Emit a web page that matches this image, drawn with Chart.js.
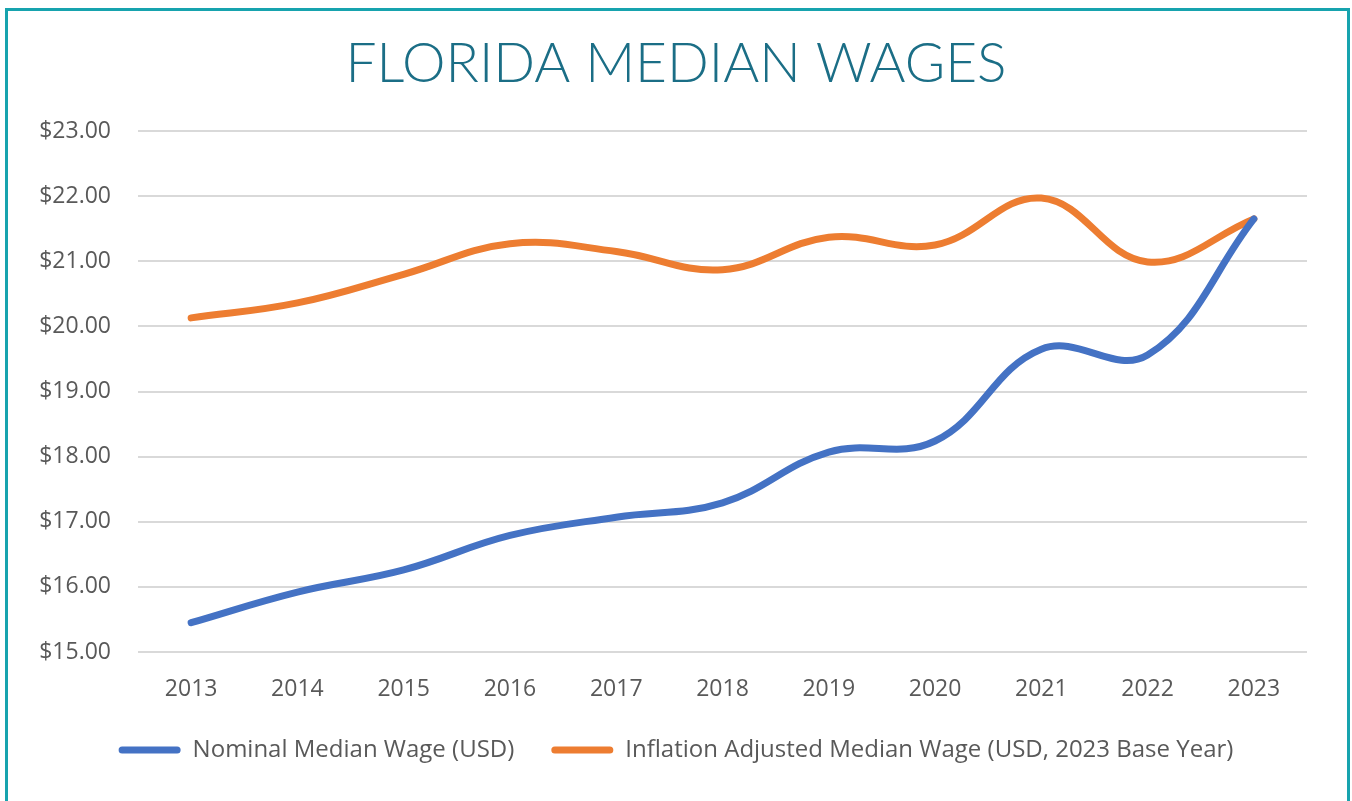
<!DOCTYPE html>
<html>
<head>
<meta charset="utf-8">
<title>Florida Median Wages</title>
<script src="https://cdn.jsdelivr.net/npm/chart.js@4"></script>
<style>
  html, body { margin: 0; padding: 0; background: #fff; }
  .wrap { position: relative; width: 1352px; height: 801px; overflow: hidden; }
  .frame {
    position: absolute; left: 5px; top: 8px; width: 1339px; height: 820px;
    border: 3px solid #17a3ae; border-bottom: none;
  }
  canvas { position: absolute; left: 0; top: 0; }
</style>
</head>
<body>
<div class="wrap">
  <div class="frame"></div>
  <canvas id="myChart" width="1352" height="801"></canvas>
</div>
<script>
let years = ['2013','2014','2015','2016','2017','2018','2019','2020','2021','2022','2023'];
let nominal = [15.45, 15.92, 16.26, 16.79, 17.07, 17.29, 18.07, 18.24, 19.65, 19.56, 21.65];
let adjusted = [20.13, 20.36, 20.80, 21.27, 21.15, 20.87, 21.37, 21.25, 21.97, 20.99, 21.65];
let yMin = 15, yMax = 23;

let ctx = document.getElementById('myChart').getContext('2d');
let myChart = new Chart(ctx, {
    type: 'line',
    data: {
        labels: years,
        datasets: [{
            label: 'Nominal Median Wage (USD)',
            data: nominal,
            borderColor: '#4472c4',
            backgroundColor: '#4472c4',
            borderWidth: 7,
            tension: 0.4,
            pointRadius: 0,
            borderCapStyle: 'round',
        },{
            label: 'Inflation Adjusted Median Wage (USD, 2023 Base Year)',
            data: adjusted,
            borderColor: '#ed7d31',
            backgroundColor: '#ed7d31',
            borderWidth: 7,
            tension: 0.4,
            pointRadius: 0,
            borderCapStyle: 'round',
        }]
    },
    options: {
        responsive: false,
        animation: false,
        layout: {
            padding: { left: 0, right: 0, bottom: 29 }
        },
        scales: {
            x: {
                offset: true,
                afterFit: function(scale){
                    scale.height = 49;
                },
                grid: { display: false },
                border: { display: false },
                ticks: {
                    color: '#595959',
                    padding: 16,
                    font: { family: "'Open Sans', sans-serif", size: 23 }
                }
            },
            y: {
                min: yMin,
                max: yMax,
                afterFit: function(scale){
                    scale.width = 138;
                },
                grid: { color: '#d9d9d9', lineWidth: 2, drawTicks: false },
                border: { display: false },
                ticks: {
                    stepSize: 1,
                    color: '#595959',
                    padding: 27,
                    font: { family: "'Open Sans', sans-serif", size: 23 },
                    callback: function(v){
                        return '$' + v.toFixed(2);
                    }
                }
            },
            // empty right-hand axis, only keeps the right margin so title and legend stay centred
            yRight: {
                position: 'right',
                afterFit: function(scale){
                    scale.width = 45;
                },
                grid: { display: false },
                border: { display: false },
                ticks: { display: false }
            }
        },
        plugins: {
            title: {
                display: true,
                text: 'FLORIDA MEDIAN WAGES',
                color: '#1b6e86',
                padding: { top: 31, bottom: 34 },
                font: { family: "'Lato', sans-serif", size: 55, weight: 300 }
            },
            legend: {
                position: 'bottom',
                labels: {
                    boxWidth: 62,
                    boxHeight: 7,
                    useBorderRadius: true,
                    borderRadius: 3.5,
                    padding: 37,
                    color: '#595959',
                    font: { family: "'Open Sans', sans-serif", size: 24 },
                    generateLabels: function(chart){
                        let items = Chart.defaults.plugins.legend.labels.generateLabels(chart);
                        items.forEach(function(it){ it.lineWidth = 0; });
                        return items;
                    }
                }
            },
            tooltip: { enabled: false }
        }
    }
});
</script>
</body>
</html>
